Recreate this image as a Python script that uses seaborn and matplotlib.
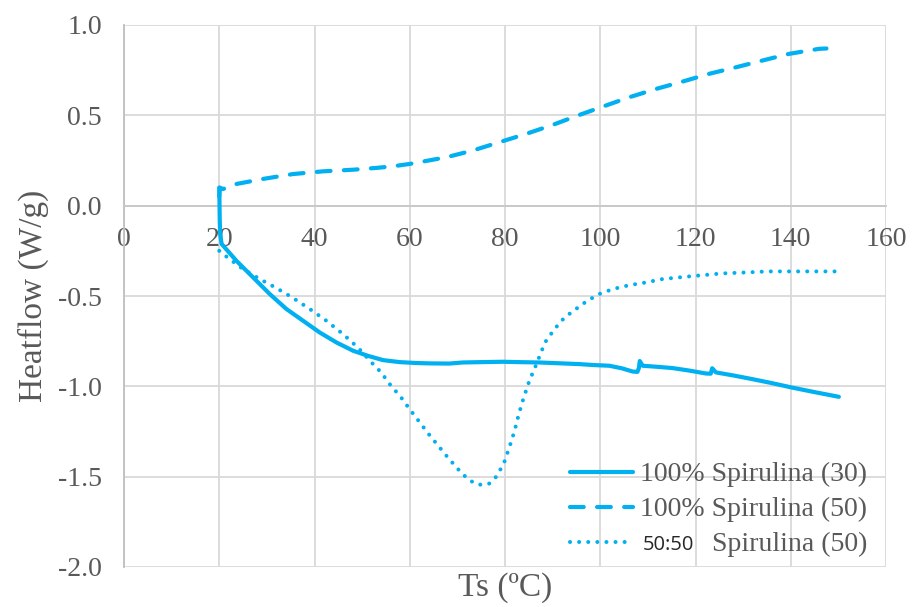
import matplotlib
matplotlib.use("Agg")
import matplotlib.pyplot as plt
import seaborn as sns
import pandas as pd

# ---- data ----
ts_30 = [20.0, 20.05, 20.1, 20.2, 20.5, 23.6, 27.1, 30.6, 34.1, 37.6, 41.1, 44.6, 48.1, 51.2,
         54.4, 57.9, 61.4, 64.2, 68.3, 71.1, 75.0, 79.5, 83.0, 87.2, 91.0, 95.6, 98.5, 101.9,
         104.5, 106.8, 107.8, 108.1, 108.3, 108.9, 112.0, 115.2, 118.5, 122.2, 123.2, 123.5,
         124.3, 128.0, 131.9, 136.0, 140.3, 145.0, 150.1]
hf_30 = [0.10, 0.02, -0.08, -0.16, -0.212, -0.305, -0.397, -0.489, -0.572, -0.637, -0.702,
         -0.757, -0.803, -0.831, -0.855, -0.866, -0.871, -0.873, -0.874, -0.868, -0.866,
         -0.864, -0.866, -0.868, -0.872, -0.877, -0.882, -0.886, -0.900, -0.918, -0.920,
         -0.90, -0.86, -0.886, -0.892, -0.899, -0.912, -0.929, -0.93, -0.90, -0.923,
         -0.94, -0.960, -0.982, -1.007, -1.032, -1.058]

ts_50 = [20.0, 20.1, 20.8, 23.6, 29.2, 35.5, 41.8, 48.1, 53.0, 56.5, 60.0, 67.7, 73.2, 78.8,
         84.4, 90.0, 95.6, 100.5, 106.1, 111.7, 117.3, 122.9, 128.5, 134.0, 139.6, 145.9, 147.5]
hf_50 = [0.05, 0.10, 0.092, 0.120, 0.148, 0.175, 0.190, 0.199, 0.209, 0.218, 0.231, 0.268,
         0.305, 0.351, 0.397, 0.447, 0.502, 0.548, 0.600, 0.646, 0.687, 0.730, 0.766, 0.803,
         0.840, 0.868, 0.870]

ts_mix = [20.0, 20.8, 25.0, 28.5, 32.0, 35.5, 39.0, 42.5, 46.0, 49.1, 52.3, 54.0, 55.8, 58.2,
          60.0, 64.0, 68.0, 71.1, 73.6, 75.2, 76.7, 78.0, 79.7, 80.9, 82.0, 82.9, 83.9, 85.1,
          86.6, 88.4, 90.4, 92.5, 94.9, 97.3, 99.8, 102.6, 106.1, 109.6, 113.1, 116.6, 120.1,
          125.6, 131.2, 135.1, 141.0, 149.5]
hf_mix = [-0.25, -0.268, -0.351, -0.406, -0.456, -0.511, -0.572, -0.637, -0.711, -0.785,
          -0.877, -0.923, -0.988, -1.062, -1.127, -1.265, -1.394, -1.487, -1.538, -1.546,
          -1.538, -1.505, -1.431, -1.339, -1.247, -1.154, -1.065, -0.970, -0.877, -0.757,
          -0.683, -0.619, -0.572, -0.526, -0.489, -0.462, -0.440, -0.425, -0.406, -0.397,
          -0.388, -0.375, -0.369, -0.364, -0.364, -0.364]

x_ticks = [0, 20, 40, 60, 80, 100, 120, 140, 160]
y_ticks = [-2.0, -1.5, -1.0, -0.5, 0.0, 0.5, 1.0]
y_ticklabels = ["-2.0", "-1.5", "-1.0", "-0.5", "0.0", "0.5", "1.0"]
labels = ["100% Spirulina (30)", "100% Spirulina (50)", "Spirulina (50)"]
mix_prefix = "50:50"

# ---- style ----
sns.set_theme(style="white")
plt.rcParams["font.family"] = ["Liberation Serif", "DejaVu Serif"]

BLUE = "#00B0F0"
GRID = "#D9D9D9"
TXT = "#595959"

W, H = 9.15, 6.07
fig = plt.figure(figsize=(W, H), dpi=100)
ax = fig.add_axes([124 / 915, 1 - 567 / 607, (886 - 124) / 915, (567 - 25) / 607])

df30 = pd.DataFrame({"Ts": ts_30, "HF": hf_30})
df50 = pd.DataFrame({"Ts": ts_50, "HF": hf_50})
dfmx = pd.DataFrame({"Ts": ts_mix, "HF": hf_mix})

sns.lineplot(data=df30, x="Ts", y="HF", ax=ax, sort=False, estimator=None, color=BLUE,
             linewidth=3.0, solid_capstyle="round", solid_joinstyle="round",
             label=labels[0], zorder=4)
sns.lineplot(data=df50, x="Ts", y="HF", ax=ax, sort=False, estimator=None, color=BLUE,
             linewidth=3.0, dashes=False, linestyle=(0, (3.3, 3.2)),
             dash_capstyle="round", label=labels[1], zorder=4)
sns.lineplot(data=dfmx, x="Ts", y="HF", ax=ax, sort=False, estimator=None, color=BLUE,
             linewidth=2.9, dashes=False, linestyle=(0, (0.01, 2.25)),
             dash_capstyle="round", label=" ", zorder=4)

ax.set_xlim(0, 160)
ax.set_ylim(-2.0, 1.0)
ax.set_xticks(x_ticks)
ax.set_yticks(y_ticks)
ax.set_yticklabels(y_ticklabels)

ax.grid(True, color=GRID, linewidth=1.3)
ax.set_axisbelow(True)
for s in ["top", "right"]:
    ax.spines[s].set_visible(False)
ax.spines["left"].set_color("#BFBFBF")
ax.spines["left"].set_linewidth(1.3)
ax.spines["bottom"].set_position(("data", 0))
ax.spines["bottom"].set_color("#C8C8C8")
ax.spines["bottom"].set_linewidth(1.3)

ax.tick_params(axis="both", length=0, labelsize=20, labelcolor=TXT)
ax.tick_params(axis="x", pad=15)
ax.tick_params(axis="y", pad=16)

ax.set_xlabel("Ts (ºC)", fontsize=24, color=TXT)
ax.set_ylabel("Heatflow (W/g)", fontsize=24, color=TXT)
ax.xaxis.set_label_coords((505 - 124) / 762, -(572 - 567) / 542)
ax.yaxis.set_label_coords(-(124 - 49) / 762, 0.5)

leg = ax.legend(loc="upper left", bbox_to_anchor=(570 / 915, 1 - 462 / 607),
                bbox_transform=fig.transFigure, frameon=False, fontsize=20,
                handlelength=2.27, handletextpad=0.25, labelspacing=0.34,
                borderpad=0, borderaxespad=0)
for t in leg.get_texts():
    t.set_color(TXT)

# third legend entry: "50:50" in a sans face followed by the serif text
fig.canvas.draw()
bb0 = leg.get_texts()[0].get_window_extent()
bb2 = leg.get_texts()[2].get_window_extent()
x0 = bb0.x0
y_mid = (bb2.y0 + bb2.y1) / 2
fig.text((x0 + 3) / fig.dpi / W, y_mid / fig.dpi / H, mix_prefix,
         family=["Open Sans", "DejaVu Sans"], fontsize=14.5, color="#262626",
         va="center", ha="left")
fig.text((x0 + 72) / fig.dpi / W, y_mid / fig.dpi / H, labels[2],
         fontsize=20, color=TXT, va="center", ha="left")

fig.savefig("out.png", dpi=100)
